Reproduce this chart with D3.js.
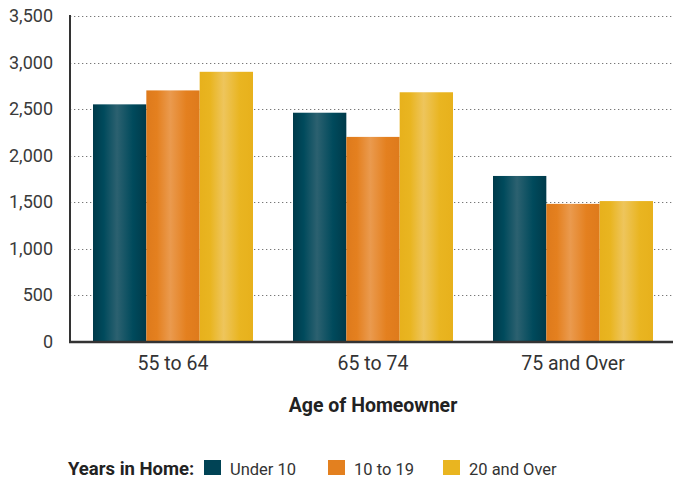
<!DOCTYPE html>
<html>
<head>
<meta charset="utf-8">
<script src="https://cdn.jsdelivr.net/npm/d3@7"></script>
<style>
  body { margin: 0; background: #fff; }
  svg text { font-family: Roboto, "Liberation Sans", sans-serif; }
</style>
</head>
<body>
<div id="chart"></div>
<script>
"use strict";

// data
var ageGroups = ["55 to 64", "65 to 74", "75 and Over"];
var yearSeries = ["Under 10", "10 to 19", "20 and Over"];
var under10 = [2550, 2460, 1780];
var tenTo19 = [2700, 2200, 1480];
var twentyPlus = [2900, 2680, 1510];
var yTicks = [0, 500, 1000, 1500, 2000, 2500, 3000, 3500];

var seriesValues = [under10, tenTo19, twentyPlus];

// base, light middle, dark edge for each series
var palette = [
	{ base: "#004a5c", light: "#2c6170", dark: "#003a4a", key: "#004355" },
	{ base: "#e4801f", light: "#ea9a4e", dark: "#de7a1c", key: "#e3801f" },
	{ base: "#e9b521", light: "#eec55c", dark: "#e7b11c", key: "#e9b520" }
];

var W = 673, H = 481;
var plotLeft = 70, plotRight = 673, plotTop = 16, plotBottom = 341.5;

var svg = d3.select("#chart").append("svg")
	.attr("width", W)
	.attr("height", H);

// gradients for the bars
var defs = svg.append("defs");
palette.forEach(function (c, i) {
	var g = defs.append("linearGradient")
		.attr("id", "grad" + i)
		.attr("x1", "0%").attr("x2", "100%")
		.attr("y1", "0%").attr("y2", "0%");
	[[0, c.dark], [0.2, c.base], [0.45, c.light], [0.75, c.base], [1, c.dark]].forEach(function (s) {
		g.append("stop").attr("offset", s[0]).attr("stop-color", s[1]);
	});
});

var y = d3.scaleLinear().domain([0, 3500]).range([plotBottom, plotTop]);

var x0 = d3.scaleBand()
	.domain(ageGroups)
	.range([73, 673])
	.paddingInner(0.2)
	.paddingOuter(0.1);

var x1 = d3.scaleBand()
	.domain(d3.range(yearSeries.length))
	.range([0, x0.bandwidth()]);

// dotted grid lines
svg.append("g")
	.selectAll("line")
	.data(yTicks.slice(1))
	.enter().append("line")
	.attr("x1", plotLeft)
	.attr("x2", plotRight)
	.attr("y1", function (d) { return Math.round(y(d)) + 0.5; })
	.attr("y2", function (d) { return Math.round(y(d)) + 0.5; })
	.attr("stroke", "#777")
	.attr("stroke-width", 1.2)
	.attr("stroke-dasharray", "1.3,2.7");

// bars
var groups = svg.append("g")
	.selectAll("g")
	.data(ageGroups)
	.enter().append("g")
	.attr("transform", function (d) { return "translate(" + x0(d) + ",0)"; });

groups.selectAll("rect")
	.data(function (d, gi) {
		return seriesValues.map(function (vals, si) { return { s: si, v: vals[gi] }; });
	})
	.enter().append("rect")
	.attr("x", function (d) { return x1(d.s); })
	.attr("width", x1.bandwidth())
	.attr("y", function (d) { return y(d.v); })
	.attr("height", function (d) { return y(0) - y(d.v); })
	.attr("fill", function (d) { return "url(#grad" + d.s + ")"; });

// axes
var yAxis = d3.axisLeft(y)
	.tickValues(yTicks)
	.tickSize(0)
	.tickPadding(17)
	.tickFormat(d3.format(","));

svg.append("g")
	.attr("transform", "translate(" + plotLeft + ",0)")
	.call(yAxis)
	.call(function (g) {
		g.select(".domain").remove();
		g.selectAll("text")
			.attr("font-size", 18)
			.attr("fill", "#3a3a3a")
			.style("font-family", "Roboto, sans-serif");
	});

svg.append("line")
	.attr("x1", plotLeft).attr("x2", plotLeft)
	.attr("y1", plotTop - 1).attr("y2", plotBottom + 1)
	.attr("stroke", "#333")
	.attr("stroke-width", 2);

var xAxis = d3.axisBottom(x0).tickSize(0).tickPadding(15);
svg.append("g")
	.attr("transform", "translate(0," + plotBottom + ")")
	.call(xAxis)
	.call(function (g) {
		g.select(".domain").remove();
		g.selectAll("text")
			.attr("font-size", 19.5)
			.attr("fill", "#333");
	});

svg.append("line")
	.attr("x1", plotLeft - 1).attr("x2", plotRight)
	.attr("y1", plotBottom + 0.5).attr("y2", plotBottom + 0.5)
	.attr("stroke", "#333")
	.attr("stroke-width", 2.5);

// axis title
svg.append("text")
	.attr("x", 373)
	.attr("y", 412)
	.attr("text-anchor", "middle")
	.attr("font-size", 19.5)
	.attr("font-weight", "bold")
	.attr("fill", "#222")
	.text("Age of Homeowner");

// legend
var legend = svg.append("g").attr("transform", "translate(0,475)");
legend.append("text")
	.attr("x", 68)
	.attr("y", 0)
	.attr("font-size", 18.5)
	.attr("font-weight", "bold")
	.attr("fill", "#222")
	.text("Years in Home:");

var legendX = [204, 328, 443];
yearSeries.forEach(function (name, i) {
	legend.append("rect")
		.attr("x", legendX[i])
		.attr("y", -15)
		.attr("width", 17)
		.attr("height", 15)
		.attr("fill", palette[i].key);
	legend.append("text")
		.attr("x", legendX[i] + 26)
		.attr("y", 0)
		.attr("font-size", 16.5)
		.attr("fill", "#333")
		.text(name);
});
</script>
</body>
</html>
